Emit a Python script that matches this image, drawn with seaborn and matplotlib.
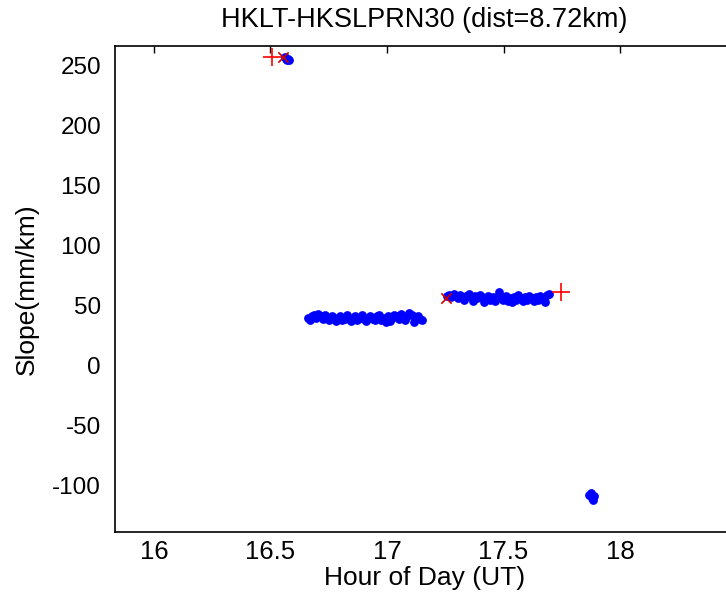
import matplotlib
matplotlib.use("Agg")
import matplotlib.pyplot as plt
import seaborn as sns
import pandas as pd

sns.set_style("white")
plt.rcParams['font.family'] = ['Liberation Sans', 'DejaVu Sans']
plt.rcParams['xtick.direction'] = 'in'
plt.rcParams['ytick.direction'] = 'in'
plt.rcParams['axes.unicode_minus'] = False
plt.rcParams['text.color'] = 'black'
plt.rcParams['axes.labelcolor'] = 'black'
plt.rcParams['xtick.color'] = 'black'
plt.rcParams['ytick.color'] = 'black'

# hour of day (UT) and slope (mm/km)
hour_a = [16.561, 16.566, 16.571, 16.575, 16.579]
slope_a = [257, 256, 255, 256, 255]

hour_b = [16.660, 16.669, 16.678, 16.688, 16.697, 16.706, 16.716, 16.725, 16.734,
          16.743, 16.753, 16.762, 16.771, 16.781, 16.790, 16.799, 16.808, 16.818,
          16.827, 16.836, 16.846, 16.855, 16.864, 16.873, 16.883, 16.892, 16.901,
          16.911, 16.920, 16.929, 16.938, 16.948, 16.957, 16.966, 16.976, 16.985,
          16.994, 17.003, 17.013, 17.022, 17.031, 17.041, 17.050, 17.059, 17.068,
          17.078, 17.087, 17.096, 17.106, 17.115, 17.124, 17.133, 17.143, 17.152]
slope_b = [40, 38, 41, 42, 40, 43, 41, 39, 42, 40, 38, 41, 39, 37, 40, 41, 38, 39,
           42, 40, 37, 39, 41, 38, 40, 42, 39, 37, 40, 41, 39, 38, 41, 42, 38, 40,
           36, 41, 37, 40, 42, 41, 39, 43, 40, 38, 41, 44, 42, 36, 40, 41, 39, 38]

hour_c = [17.258, 17.267, 17.276, 17.286, 17.295, 17.304, 17.314, 17.323, 17.332,
          17.341, 17.351, 17.360, 17.369, 17.379, 17.388, 17.397, 17.406, 17.416,
          17.425, 17.434, 17.444, 17.453, 17.462, 17.471, 17.481, 17.490, 17.499,
          17.509, 17.518, 17.527, 17.536, 17.546, 17.555, 17.564, 17.574, 17.583,
          17.592, 17.601, 17.611, 17.620, 17.629, 17.639, 17.648, 17.657, 17.666,
          17.676, 17.685, 17.694]
slope_c = [58, 59, 57, 60, 58, 56, 59, 57, 55, 58, 60, 57, 54, 58, 56, 59, 57, 53,
           56, 58, 55, 57, 54, 56, 61, 57, 55, 58, 54, 56, 53, 57, 55, 59, 56, 54,
           57, 55, 58, 56, 54, 57, 55, 58, 56, 53, 59, 60]

hour_d = [17.867, 17.874, 17.880, 17.886, 17.890]
slope_d = [-108, -106, -110, -112, -109]

start_hour = [16.506, 17.745]
start_slope = [257, 61]
end_hour = [16.553, 17.252]
end_slope = [257, 56]

title = "HKLT-HKSLPRN30 (dist=8.72km)"

pts = pd.DataFrame({'hour': hour_a + hour_b + hour_c + hour_d,
                    'slope': slope_a + slope_b + slope_c + slope_d})

fig = plt.figure(figsize=(7.26, 6.04), dpi=100)
ax = fig.add_axes([0.1584, 0.1192, 0.853, 0.8046])

sns.scatterplot(data=pts, x='hour', y='slope', color='#0000ff', s=40,
                linewidth=0, ax=ax, zorder=2)
sns.scatterplot(x=start_hour, y=start_slope, marker='+', color='red', s=160,
                linewidth=1.2, ax=ax, zorder=3)
sns.scatterplot(x=end_hour, y=end_slope, marker='x', color='#cc0000', s=55,
                linewidth=1.2, ax=ax, zorder=3)

ax.set_xlim(15.833, 18.49)
ax.set_ylim(-138.6, 266.4)
ax.set_xticks([16, 16.5, 17, 17.5, 18])
ax.set_xticklabels(['16', '16.5', '17', '17.5', '18'])
ax.set_yticks([-100, -50, 0, 50, 100, 150, 200, 250])
ax.tick_params(axis='x', labelsize=18.5, length=5, width=1, top=True, pad=6)
ax.tick_params(axis='y', labelsize=17.5, length=5, width=1, right=True, pad=10)
for s in ax.spines.values():
    s.set_color('black')
    s.set_linewidth(1.2)

ax.set_xlabel("Hour of Day (UT)", fontsize=19, labelpad=1)
ax.set_ylabel("Slope(mm/km)", fontsize=19, labelpad=10)
ax.set_title(title, fontsize=19.5, pad=14)

fig.savefig("out.png", dpi=100)
